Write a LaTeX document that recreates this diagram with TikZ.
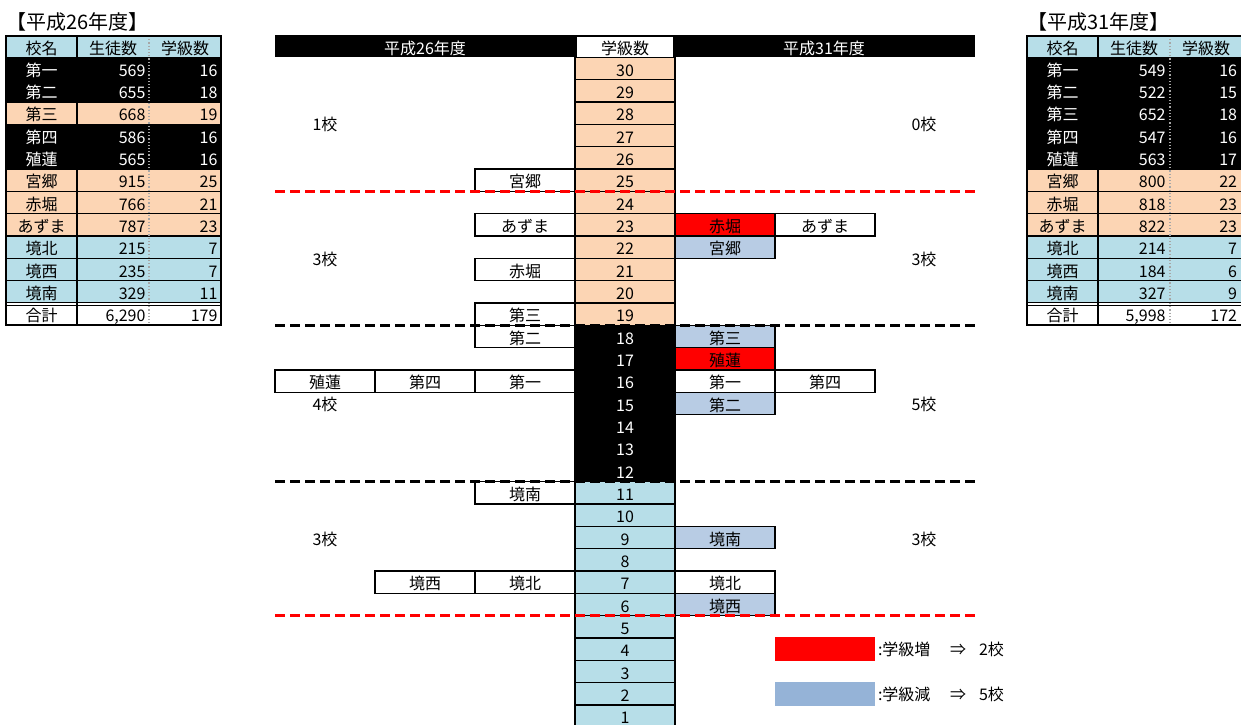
\documentclass[tikz,border=0pt]{standalone}
\usepackage{fontspec}
\setmainfont{Noto Sans CJK JP}
\definecolor{peach}{HTML}{FCD5B4}
\definecolor{lblue}{HTML}{B7DEE8}
\definecolor{sblue}{HTML}{B8CCE4}
\definecolor{legblue}{HTML}{95B3D7}
\definecolor{hred}{HTML}{FF0000}
\begin{document}
\begin{tikzpicture}[x=1pt,y=-1pt,
  every node/.style={inner sep=0pt, outer sep=0pt},
  txt/.style={font=\fontsize{16}{18}\selectfont, text height=17pt, text depth=2pt},
  cell/.style={txt, draw=black, line width=1.5pt, minimum width=100pt, minimum height=22.333pt},
  lbox/.style={cell, fill=white, anchor=north east},
  rbox/.style={cell, anchor=north west},
  lbl/.style={font=\fontsize{16}{18}\selectfont, anchor=base},
  sep/.style={line width=3pt, dash pattern=on 10pt off 5pt},
  ttl/.style={font=\fontsize{20}{22}\selectfont, anchor=base west},
  grid/.style={line width=1.3pt, black},
  dotsep/.style={line width=1.2pt, gray!70, dotted},
]
\useasboundingbox (0,0) rectangle (1241,724);
\clip (0,0) rectangle (1241,724);
\fill[white] (0,0) rectangle (1241,724);

% ---------- centre column ----------
\node[fill=black, minimum width=700pt, minimum height=22.4pt, anchor=north west] (hbar) at (275,35) {};
\node[txt, fill=white, minimum width=96pt, minimum height=19.5pt] (hmid) at (625,46.8) {学級数};
\node[txt, text=white] (hL) at (425,46.8) {平成26年度};
\node[txt, text=white] (hR) at (824,46.8) {平成31年度};

\foreach \k in {1,...,30}{
  \pgfmathsetmacro{\yt}{705-(\k-1)*22.333}
  \ifnum\k>18 \def\fcol{peach}\def\tcol{black}\else
    \ifnum\k>11 \def\fcol{black}\def\tcol{white}\else
      \def\fcol{lblue}\def\tcol{black}\fi\fi
  \node[cell, fill=\fcol, text=\tcol, anchor=north west] (r\k) at (575,\yt) {\k};
}

% ---------- left boxes (H26) ----------
\node[lbox] (L25) at (r25.north west) {宮郷};
\node[lbox] (L23) at (r23.north west) {あずま};
\node[lbox] (L21) at (r21.north west) {赤堀};
\node[lbox] (L19) at (r19.north west) {第三};
\node[lbox] (L18) at (r18.north west) {第二};
\node[lbox] (L16a) at (r16.north west) {第一};
\node[lbox] (L16b) at (L16a.north west) {第四};
\node[lbox] (L16c) at (L16b.north west) {殖蓮};
\node[lbox] (L11) at (r11.north west) {境南};
\node[lbox] (L7a) at (r7.north west) {境北};
\node[lbox] (L7b) at (L7a.north west) {境西};

% ---------- right boxes (H31) ----------
\node[rbox, fill=hred] (R23a) at (r23.north east) {赤堀};
\node[rbox, fill=white] (R23b) at (R23a.north east) {あずま};
\node[rbox, fill=sblue] (R22) at (r22.north east) {宮郷};
\node[rbox, fill=sblue] (R18) at (r18.north east) {第三};
\node[rbox, fill=hred] (R17) at (r17.north east) {殖蓮};
\node[rbox, fill=white] (R16a) at (r16.north east) {第一};
\node[rbox, fill=white] (R16b) at (R16a.north east) {第四};
\node[rbox, fill=sblue] (R15) at (r15.north east) {第二};
\node[rbox, fill=sblue] (R9) at (r9.north east) {境南};
\node[rbox, fill=white] (R7) at (r7.north east) {境北};
\node[rbox, fill=sblue] (R6) at (r6.north east) {境西};

% ---------- separators ----------
\draw[sep, hred] (r25.south -| hbar.west) -- (r25.south -| hbar.east);
\draw[sep, black] (r19.south -| hbar.west) -- (r19.south -| hbar.east);
\draw[sep, black] (r12.south -| hbar.west) -- (r12.south -| hbar.east);
\draw[sep, hred] (r6.south -| hbar.west) -- (r6.south -| hbar.east);

% ---------- counts ----------
\node[lbl] (cL1) at (325,130.5) {1校};
\node[lbl] (cR1) at (924,130.5) {0校};
\node[lbl] (cL2) at (325,265) {3校};
\node[lbl] (cR2) at (924,265) {3校};
\node[lbl] (cL3) at (325,410.7) {4校};
\node[lbl] (cR3) at (924,410.7) {5校};
\node[lbl] (cL4) at (325,545.3) {3校};
\node[lbl] (cR4) at (924,545.3) {3校};

% ---------- legend ----------
\node[fill=hred, minimum width=100pt, minimum height=23.5pt, anchor=north west] (legR) at (775,637) {};
\node[fill=legblue, minimum width=100pt, minimum height=23.5pt, anchor=north west] (legB) at (775,682) {};
\node[lbl, anchor=base west] (legRt) at (878,655) {:学級増};
\node[lbl] (legRa) at (958,655) {⇒};
\node[lbl, anchor=base west] (legRn) at (979,655) {2校};
\node[lbl, anchor=base west] (legBt) at (878,700) {:学級減};
\node[lbl] (legBa) at (958,700) {⇒};
\node[lbl, anchor=base west] (legBn) at (979,700) {5校};

% ---------- left table ----------
\node[ttl] (ttlL) at (6,29.5) {【平成26年度】};
\fill[lblue] (6,36) rectangle (221,57.4);
\node[txt] (LhA) at (41.5,46.7) {校名};
\node[txt] (LhB) at (113,46.7) {生徒数};
\node[txt] (LhC) at (185,46.7) {学級数};
\foreach \nm/\st/\cl/\fcol/\tcol [count=\i from 0] in {
  第一/569/16/black/white, 第二/655/18/black/white, 第三/668/19/peach/black,
  第四/586/16/black/white, 殖蓮/565/16/black/white, 宮郷/915/25/peach/black,
  赤堀/766/21/peach/black, あずま/787/23/peach/black, 境北/215/7/lblue/black,
  境西/235/7/lblue/black, 境南/329/11/lblue/black}{
  \pgfmathsetmacro{\yt}{57.4+22.333*\i}
  \fill[\fcol] (6,\yt) rectangle (221,\yt+22.333);
  \draw[grid] (6,\yt) -- (221,\yt);
  \node[txt, text=\tcol] (Ln\i) at (41.5,\yt+11.17) {\nm};
  \node[txt, text=\tcol, anchor=east] (Ls\i) at (145.5,\yt+11.17) {\st};
  \node[txt, text=\tcol, anchor=east] (Lc\i) at (217.5,\yt+11.17) {\cl};
}
\draw[grid] (77,36) -- (77,325.4);
\draw[dotsep] (149,36) -- (149,325.4);
\fill[white] (6,303) rectangle (221,325.4);
\draw[grid, line width=1.1pt] (6,302.3) -- (221,302.3) (6,305.6) -- (221,305.6);
\draw[grid] (77,303) -- (77,325.4);
\draw[dotsep] (149,303) -- (149,325.4);
\node[txt] (LtA) at (41.5,314.4) {合計};
\node[txt, anchor=east] (LtB) at (145.5,314.4) {6,290};
\node[txt, anchor=east] (LtC) at (217.5,314.4) {179};
\draw[line width=2pt] (6,36) rectangle (221,325.4);

% ---------- right table ----------
\node[ttl] (ttlR) at (1027,29.5) {【平成31年度】};
\fill[lblue] (1027,36) rectangle (1242,57.4);
\node[txt] (RhA) at (1062.5,46.7) {校名};
\node[txt] (RhB) at (1134,46.7) {生徒数};
\node[txt] (RhC) at (1206,46.7) {学級数};
\foreach \nm/\st/\cl/\fcol/\tcol [count=\i from 0] in {
  第一/549/16/black/white, 第二/522/15/black/white, 第三/652/18/black/white,
  第四/547/16/black/white, 殖蓮/563/17/black/white, 宮郷/800/22/peach/black,
  赤堀/818/23/peach/black, あずま/822/23/peach/black, 境北/214/7/lblue/black,
  境西/184/6/lblue/black, 境南/327/9/lblue/black}{
  \pgfmathsetmacro{\yt}{57.4+22.333*\i}
  \fill[\fcol] (1027,\yt) rectangle (1242,\yt+22.333);
  \draw[grid] (1027,\yt) -- (1242,\yt);
  \node[txt, text=\tcol] (Rn\i) at (1062.5,\yt+11.17) {\nm};
  \node[txt, text=\tcol, anchor=east] (Rs\i) at (1165.5,\yt+11.17) {\st};
  \node[txt, text=\tcol, anchor=east] (Rc\i) at (1237,\yt+11.17) {\cl};
}
\draw[grid] (1098,36) -- (1098,325.4);
\draw[dotsep] (1170,36) -- (1170,325.4);
\fill[white] (1027,303) rectangle (1242,325.4);
\draw[grid, line width=1.1pt] (1027,302.3) -- (1242,302.3) (1027,305.6) -- (1242,305.6);
\draw[grid] (1098,303) -- (1098,325.4);
\draw[dotsep] (1170,303) -- (1170,325.4);
\node[txt] (RtA) at (1062.5,314.4) {合計};
\node[txt, anchor=east] (RtB) at (1165.5,314.4) {5,998};
\node[txt, anchor=east] (RtC) at (1237,314.4) {172};
\draw[line width=2pt] (1027,36) rectangle (1242,325.4);
\end{tikzpicture}
\end{document}
